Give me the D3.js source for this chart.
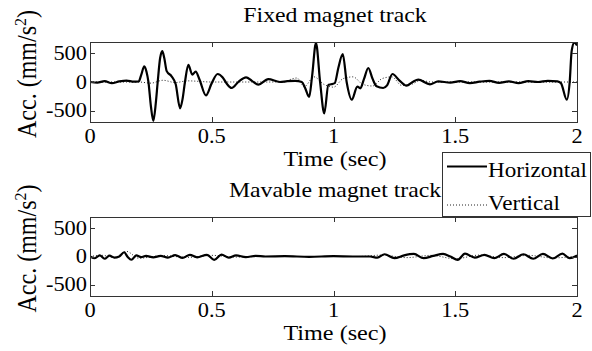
<!DOCTYPE html>
<html>
<head>
<meta charset="utf-8">
<script src="https://cdn.jsdelivr.net/npm/d3@7"></script>
<style>
  body { margin: 0; background: #fff; }
  text { font-family: "Liberation Serif", "Times New Roman", serif; fill: #000; }
  .box { fill: none; stroke: #333; stroke-width: 1; }
  .tick { stroke: #333; stroke-width: 1; }
  .horiz { fill: none; stroke: #000; stroke-width: 2.2; }
  .vert { fill: none; stroke: #222; stroke-width: 1; stroke-dasharray: 1,2; }
</style>
</head>
<body>
<svg width="592" height="351"></svg>
<script>
// tick labels
var xTicks = [0, 0.5, 1, 1.5, 2],
  xTickLabels = ["0", "0.5", "1", "1.5", "2"],
  yTicks = [500, 0, -500],
  yTickLabels = ["500", "0", "-500"];

var titles = ["Fixed magnet track", "Mavable magnet track"],
  seriesNames = ["Horizontal", "Vertical"];

// fixed track, horizontal
var fixedHT = [0, 0.03, 0.06, 0.09, 0.12, 0.15, 0.18, 0.2, 0.21, 0.223, 0.232, 0.24, 0.25, 0.26, 0.27, 0.278, 0.288, 0.297, 0.305, 0.315, 0.335, 0.352, 0.37, 0.38, 0.39, 0.404, 0.42, 0.434, 0.45, 0.476, 0.5, 0.524, 0.545, 0.56, 0.582, 0.609, 0.641, 0.665, 0.691, 0.732, 0.78, 0.81, 0.842, 0.87, 0.883, 0.9, 0.912, 0.928, 0.945, 0.962, 0.979, 0.99, 1.005, 1.02, 1.038, 1.054, 1.075, 1.098, 1.11, 1.125, 1.143, 1.16, 1.177, 1.204, 1.22, 1.242, 1.27, 1.3, 1.325, 1.348, 1.396, 1.43, 1.48, 1.52, 1.56, 1.6, 1.64, 1.68, 1.72, 1.76, 1.8, 1.84, 1.88, 1.92, 1.934, 1.958, 1.97, 1.978, 1.989, 2.0];
var fixedH = [0, -10, 15, -20, 10, 25, 5, 10, 120, 275, 180, 0, -420, -680, -380, 0, 420, 540, 420, 190, 100, -40, -460, -300, 0, 300, 130, 180, 40, -235, -20, 140, 80, -20, -105, 0, 82, 20, -47, 50, 0, 15, 20, 0, -100, -260, 100, 684, 0, -550, -50, -40, -20, 250, 490, 0, -310, -80, -110, 50, 245, 60, -76, -105, -60, 140, 30, -65, 0, 40, -40, 10, -10, 15, -20, 5, 20, -15, 10, -20, 15, 0, 20, 10, -20, -310, 0, 540, 690, 640];

// fixed track, vertical
var fixedVT = [0, 0.2, 0.25, 0.3, 0.35, 0.4, 0.5, 0.8, 0.82, 0.85, 0.88, 0.92, 0.96, 1.0, 1.04, 1.08, 1.12, 1.16, 1.2, 1.24, 1.28, 1.32, 1.36, 1.4, 2.0];
var fixedV = [0, 0, -20, 30, -10, 20, 0, 0, 40, 70, -80, 90, -40, -90, 60, 90, -40, -70, 60, 90, -60, -40, 30, 0, 0];

// movable track, horizontal
var movHT = [0, 0.02, 0.04, 0.06, 0.08, 0.1, 0.12, 0.14, 0.155, 0.17, 0.19, 0.21, 0.23, 0.26, 0.29, 0.32, 0.35, 0.38, 0.41, 0.44, 0.48, 0.51, 0.54, 0.57, 0.6, 0.64, 0.68, 0.72, 0.8, 0.9, 1.0, 1.08, 1.15, 1.18, 1.21, 1.25, 1.29, 1.33, 1.37, 1.41, 1.45, 1.48, 1.51, 1.54, 1.58, 1.62, 1.66, 1.7, 1.74, 1.78, 1.82, 1.86, 1.9, 1.94, 1.97, 2.0];
var movH = [0, -30, 20, -40, 15, -20, 0, 75, -10, -58, 20, -10, 10, -15, 10, -20, 25, -25, 30, -15, 30, -60, 35, -20, 20, -10, 10, 0, 5, -5, 5, 0, 0, -20, 40, -30, 20, 45, -30, 10, 45, 0, -60, 50, -20, 30, -30, 45, -40, 40, -40, 45, -35, 50, -30, 20];

// movable track, vertical
var movVT = [0, 0.05, 0.1, 0.15, 0.2, 0.3, 0.4, 0.5, 0.6, 0.7, 1.1, 1.2, 1.3, 1.4, 1.5, 1.6, 1.7, 1.8, 1.9, 2.0];
var movV = [0, 20, -20, 90, -30, 15, -15, 20, -10, 0, 0, 25, -20, 20, -40, 25, -20, 20, -25, 10];

var svg = d3.select("svg");

function label(g, x, y, str, fs, sx, anchor, rot) {
  return g.append("text")
    .attr("transform", "translate(" + x + "," + y + ") scale(" + sx + ",1)" + (rot ? " rotate(-90)" : ""))
    .attr("text-anchor", anchor || "middle")
    .style("font-size", fs + "px")
    .text(str);
}

var x = d3.scaleLinear().domain([0, 2]).range([90, 577]);

var panels = [
  { top: 42, bottom: 122, title: titles[0], h: [fixedHT, fixedH], v: [fixedVT, fixedV] },
  { top: 217, bottom: 296, title: titles[1], h: [movHT, movH], v: [movVT, movV] }
];

panels.forEach(function (p, i) {
  var y = d3.scaleLinear().domain([-700, 700]).range([p.bottom, p.top]);
  var g = svg.append("g");

  g.append("clipPath").attr("id", "clip" + i)
    .append("rect").attr("x", 90).attr("y", p.top).attr("width", 487).attr("height", p.bottom - p.top);

  var line = d3.line()
    .x(function (d) { return x(d[0]); })
    .y(function (d) { return y(d[1]); })
    .curve(d3.curveMonotoneX);

  g.append("path")
    .datum(d3.zip(p.v[0], p.v[1]))
    .attr("class", "vert")
    .attr("clip-path", "url(#clip" + i + ")")
    .attr("d", line);

  g.append("path")
    .datum(d3.zip(p.h[0], p.h[1]))
    .attr("class", "horiz")
    .attr("clip-path", "url(#clip" + i + ")")
    .attr("d", line);

  // box with inside ticks on all four sides
  g.append("rect").attr("class", "box")
    .attr("x", 90.5).attr("y", p.top + 0.5).attr("width", 487).attr("height", p.bottom - p.top);

  xTicks.forEach(function (t, k) {
    var px = Math.round(x(t)) + 0.5;
    g.append("line").attr("class", "tick").attr("x1", px).attr("x2", px).attr("y1", p.bottom).attr("y2", p.bottom - 5);
    g.append("line").attr("class", "tick").attr("x1", px).attr("x2", px).attr("y1", p.top).attr("y2", p.top + 5);
    label(g, x(t), p.bottom + 21, xTickLabels[k], 20, 1.12);
  });
  yTicks.forEach(function (t, k) {
    var py = Math.round(y(t)) + 0.5;
    g.append("line").attr("class", "tick").attr("x1", 90).attr("x2", 95).attr("y1", py).attr("y2", py);
    g.append("line").attr("class", "tick").attr("x1", 577).attr("x2", 572).attr("y1", py).attr("y2", py);
    label(g, 87, y(t) + 6.5, yTickLabels[k], 20, 1.12, "end");
  });

  label(g, 335, p.top - 20, p.title, 22, 1.08);
  label(g, 335, p.bottom + 44, "Time (sec)", 22, 1.1);

  var yl = label(g, 36, (p.top + p.bottom) / 2 - 8, "", 24, 1.1, "middle", true);
  yl.append("tspan").text("Acc. (mm/s");
  yl.append("tspan").attr("dy", -9).style("font-size", "16px").text("2");
  yl.append("tspan").attr("dy", 9).text(")");
});

// legend
var lg = svg.append("g");
lg.append("rect").attr("x", 442.5).attr("y", 152.5).attr("width", 148).attr("height", 64)
  .attr("fill", "#fff").attr("stroke", "#333");
lg.append("line").attr("class", "horiz").attr("x1", 447).attr("x2", 487).attr("y1", 166.5).attr("y2", 166.5).style("stroke-width", 1.8);
lg.append("line").attr("class", "vert").attr("x1", 447).attr("x2", 487).attr("y1", 205).attr("y2", 205);
label(lg, 488, 177, seriesNames[0], 20.5, 1.13, "start");
label(lg, 488, 210, seriesNames[1], 20.5, 1.13, "start");
</script>
</body>
</html>
